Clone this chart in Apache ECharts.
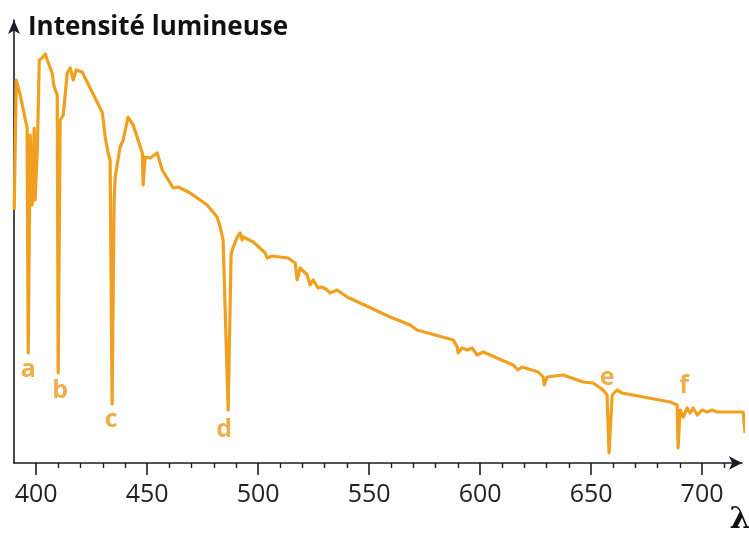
<!DOCTYPE html>
<html>
<head>
<meta charset="utf-8">
<script src="https://cdn.jsdelivr.net/npm/echarts@6/dist/echarts.min.js"></script>
<style>html,body{margin:0;padding:0;background:#fff}#c{width:749px;height:537px}</style>
</head>
<body>
<div id="c"></div>
<script>
// Wavelength (nm) of each traced point of the spectrum
var wavelength = [390.1,391.0,392.8,395.9,396.4,397.3,398.2,399.1,399.5,400.5,401.4,402.7,404.1,405.0,407.2,408.1,409.5,409.9,410.8,412.2,414.0,415.3,416.7,418.0,420.7,429.7,430.2,431.1,432.4,433.3,434.2,435.1,435.6,437.8,439.2,440.1,441.4,442.8,443.7,447.8,448.2,449.1,451.4,454.5,456.8,459.0,461.7,464.0,469.4,477.0,481.5,482.9,484.2,486.5,487.8,488.3,490.6,491.9,492.8,493.3,497.8,503.2,504.1,506.3,513.5,516.7,517.6,518.9,522.1,523.4,524.8,527.0,528.8,531.1,532.4,535.6,540.1,559.5,568.5,571.6,587.9,589.7,590.1,591.9,594.2,596.4,598.7,601.4,614.9,617.1,618.9,626.2,628.4,628.9,630.2,637.4,646.4,650.9,655.4,657.2,658.1,659.5,661.7,664.0,685.6,688.8,689.2,690.1,691.5,693.3,694.6,696.0,697.8,700.0,702.3,704.5,706.8,718.5,719.4];
// Relative light intensity (arbitrary units)
var intensity = [253,383,368,335,110,328,258,335,263,313,403,405,409,403,390,376,368,90,343,348,390,395,383,393,391,351,343,326,310,303,59,263,286,316,323,321,346,341,338,310,278,306,305,310,293,285,275,276,270,258,246,236,223,53,208,213,226,230,223,226,221,210,205,207,205,200,183,195,188,178,183,175,176,173,170,173,166,146,138,133,123,116,110,115,113,115,108,111,98,93,96,91,86,78,86,88,81,80,73,68,10,68,73,70,61,58,15,53,46,55,50,55,48,53,51,53,51,51,30];
// Absorption line letters
var lineLetters = ['a','b','c','d','e','f'];
var letterNm = [396.4,410.8,433.8,484.7,657.2,691.9];
var letterI = [93,72,43,33,85,77];
// Tick values
var majorTicks = [400,450,500,550,600,650,700];
var minorTicks = [410,420,430,440,460,470,480,490,510,520,530,540,560,570,580,590,610,620,630,640,660,670,680,690,710];

var spectrum = wavelength.map(function(w,i){return [w,intensity[i]];});
var letters = lineLetters.map(function(l,i){return {value:[letterNm[i],letterI[i]],name:l};});

var axisColor = '#1c1c28';
var orange = '#F0A01E';
var chart = echarts.init(document.getElementById('c'));
chart.setOption({
  animation:false,
  backgroundColor:'#ffffff',
  grid:{left:14,right:7,top:20,bottom:74,containLabel:false,outerBoundsMode:'none'},
  title:{text:'Intensité lumineuse',left:23,top:10,textStyle:{fontFamily:'Open Sans',fontWeight:'bold',fontSize:26,color:'#111'}},
  xAxis:[{
    type:'value',min:390,max:718,
    name:'{l|λ}{n|(nm)}',nameLocation:'end',nameGap:-57,
    nameTextStyle:{align:'left',verticalAlign:'top',padding:[42,0,0,0],
      rich:{
        l:{fontFamily:'DejaVu Serif',fontWeight:'bold',fontSize:30,color:'#111'},
        n:{fontFamily:'Open Sans',fontSize:24,color:'#222'}
      }},
    axisLine:{show:true,symbol:['none','arrow'],symbolSize:[10,13],lineStyle:{color:axisColor,width:1.6}},
    axisTick:{show:true,customValues:majorTicks,length:12,inside:false,lineStyle:{color:axisColor,width:1.6}},
    axisLabel:{show:true,customValues:majorTicks,margin:19,fontFamily:'Open Sans',fontSize:25,color:'#222'},
    splitLine:{show:false}
  },{
    type:'value',min:390,max:718,position:'bottom',
    axisLine:{show:false},
    axisTick:{show:true,customValues:minorTicks,length:5,lineStyle:{color:axisColor,width:1.4}},
    axisLabel:{show:false},
    splitLine:{show:false}
  }],
  yAxis:{
    type:'value',min:0,max:443,
    axisLine:{show:true,symbol:['none','arrow'],symbolSize:[9,14],lineStyle:{color:axisColor,width:1.6}},
    axisTick:{show:false},axisLabel:{show:false},splitLine:{show:false}
  },
  series:[{
    type:'line',data:spectrum,xAxisIndex:0,symbol:'none',smooth:false,clip:false,
    lineStyle:{color:orange,width:3.2,join:'round'}
  },{
    type:'scatter',data:letters,xAxisIndex:0,symbolSize:0,
    label:{show:true,position:'inside',formatter:function(p){return p.name;},fontFamily:'Open Sans',fontWeight:'bold',fontSize:25,color:'#EC9A1E'}
  }]
});
</script>
</body>
</html>
